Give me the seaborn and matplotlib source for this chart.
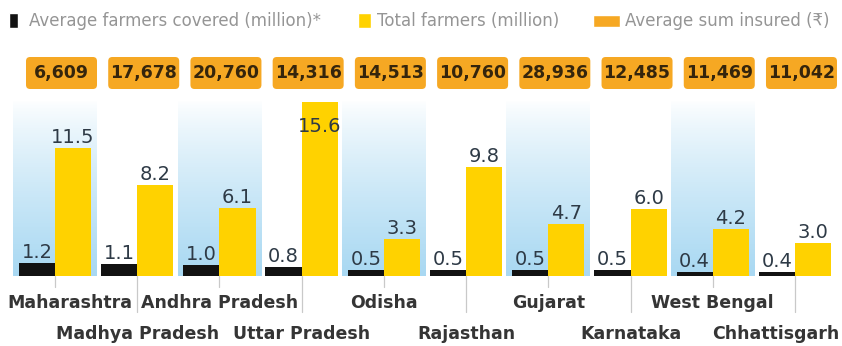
import numpy as np
import pandas as pd
import matplotlib
matplotlib.use("Agg")
import matplotlib.pyplot as plt
import seaborn as sns
from matplotlib.patches import Rectangle, FancyBboxPatch
from matplotlib import font_manager as fm

# ---------------- data ----------------
states = ["Maharashtra", "Madhya Pradesh", "Andhra Pradesh", "Uttar Pradesh", "Odisha",
          "Rajasthan", "Gujarat", "Karnataka", "West Bengal", "Chhattisgarh"]
covered = [1.2, 1.1, 1.0, 0.8, 0.5, 0.5, 0.5, 0.5, 0.4, 0.4]
total = [11.5, 8.2, 6.1, 15.6, 3.3, 9.8, 4.7, 6.0, 4.2, 3.0]
sum_insured = [6609, 17678, 20760, 14316, 14513, 10760, 28936, 12485, 11469, 11042]
series = ["Average farmers covered (million)*", "Total farmers (million)"]
legend_sum = "Average sum insured (₹)"

BLACK = "#121212"
YELLOW = "#FFD200"
ORANGE = "#F6A823"
LABEL = "#2e3a46"

df = pd.DataFrame({
    "state": states * 2,
    "value": covered + total,
    "series": [series[0]] * len(states) + [series[1]] * len(states),
})

sns.set_theme(style="white")
plt.rcParams["font.family"] = ["DejaVu Sans"]


def has_font(name):
    try:
        fm.findfont(fm.FontProperties(family=name), fallback_to_default=False)
        return True
    except Exception:
        return False


NARROW = "Liberation Sans Narrow" if has_font("Liberation Sans Narrow") else "DejaVu Sans"
VAL_SIZE = 16.5 if NARROW != "DejaVu Sans" else 14

W, H = 842, 346
fig = plt.figure(figsize=(W / 100, H / 100), dpi=100)
ax = fig.add_axes([0, 0, 1, 1])

# pixel geometry helpers (layout only)
XS = 82.22          # px per category
X0 = -55 / XS       # data x at left edge
YS = 11.15          # px per million
BASE = 276          # baseline px from top
def dx(px): return px / XS + X0
def dy(py): return (BASE - py) / YS

# alternating blue gradient bands (white at top -> light blue at bottom)
n = 256
t = np.linspace(0, 1, n)            # 0 at bottom row, 1 at top row (origin lower)
img = np.ones((n, 1, 4))
img[..., :3] = np.array([0.66, 0.85, 0.95])
img[:, 0, 3] = (1 - t) ** 0.8
band_top = dy(100)
for i in range(0, len(states), 2):
    ax.imshow(img, extent=[i - 0.51, i + 0.51, 0, band_top], aspect="auto",
              origin="lower", zorder=0, interpolation="bilinear")

sns.barplot(data=df, x="state", y="value", hue="series", order=states,
            hue_order=series, palette=[BLACK, YELLOW], width=0.88,
            saturation=1, ax=ax, legend=False, zorder=2, linewidth=0,
            edgecolor="none")

ax.set_xlim(X0, X0 + W / XS)
ax.set_ylim(dy(H), dy(0))
ax.axis("off")

# value labels
cap = dy(132)
for cont in ax.containers:
    for bar in cont:
        v = bar.get_height()
        xc = bar.get_x() + bar.get_width() / 2
        y = min(v + 0.45, cap)
        ax.text(xc, y, f"{v:.1f}", ha="center", va="baseline", fontsize=VAL_SIZE,
                color=LABEL, family=[NARROW, "DejaVu Sans"], zorder=3)

# ticks and category labels
for i, s in enumerate(states):
    long = i % 2 == 1
    ax.plot([i, i], [0, dy(312) if long else dy(287)], color="#c9c9c9", lw=0.9,
            zorder=1, clip_on=False)
    ybase = dy(339) if long else dy(308)
    ha, xx = "center", i
    if i == 0:
        ha, xx = "left", dx(7)
    elif i == len(states) - 1:
        ha, xx = "right", dx(839)
    ax.text(xx, ybase, s, ha=ha, va="baseline", fontsize=12.5, fontweight="bold",
            color="#353535")

# orange sum-insured boxes
bw = 71 / XS
for i, val in enumerate(sum_insured):
    xc = i + 6.5 / XS
    y0, y1 = dy(89), dy(57)
    box = FancyBboxPatch((xc - bw / 2, y0), bw, y1 - y0,
                         boxstyle="round,pad=0,rounding_size=0.05",
                         mutation_aspect=XS / YS, fc=ORANGE, ec="none",
                         zorder=2, clip_on=False)
    ax.add_patch(box)
    ax.text(xc, (y0 + y1) / 2, f"{val:,}", ha="center", va="center",
            fontsize=12.5, fontweight="bold", color="#35250c", zorder=3)

# legend
def fx(px): return px / W
def fy(py): return 1 - py / H
LEG = "#959595"
fig.patches.append(Rectangle((fx(9), fy(28)), 9 / W, 15 / H, fc=BLACK,
                             transform=fig.transFigure, figure=fig))
fig.text(fx(29), fy(21), series[0], ha="left", va="center", fontsize=12,
         color=LEG)
fig.patches.append(Rectangle((fx(358), fy(28)), 13 / W, 15 / H, fc=YELLOW,
                             transform=fig.transFigure, figure=fig))
fig.text(fx(377), fy(21), series[1], ha="left", va="center", fontsize=12,
         color=LEG)
fig.patches.append(Rectangle((fx(593), fy(27)), 27 / W, 12 / H, fc=ORANGE,
                             transform=fig.transFigure, figure=fig))
fig.text(fx(625), fy(21), legend_sum, ha="left", va="center", fontsize=12,
         color=LEG)

fig.savefig("out.png", dpi=100, facecolor="white")
